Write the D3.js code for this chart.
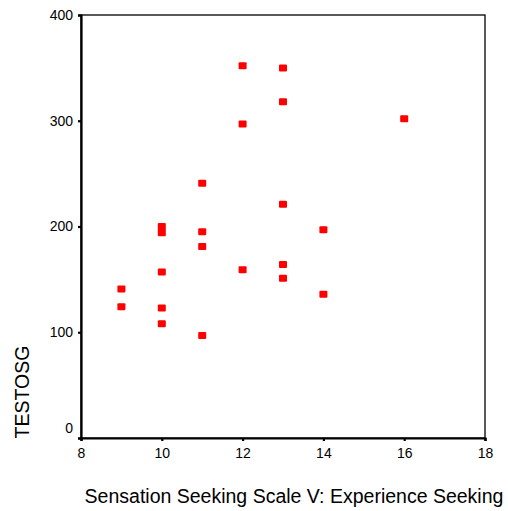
<!DOCTYPE html>
<html><head><meta charset="utf-8">
<script src="https://cdn.jsdelivr.net/npm/d3@7"></script>
<style>body{margin:0;background:#fff}</style>
</head><body>
<script>
const xValues = [12, 13, 13, 12, 16, 11, 13, 10, 10, 11, 14, 11, 10, 12, 13, 13, 9, 9, 14, 10, 10, 11];
const yValues = [352, 350, 318, 297, 302, 241, 221, 200, 194, 195, 197, 181, 157, 159, 164, 151, 141, 124, 136, 123, 108, 97];
const xTicks = [8, 10, 12, 14, 16, 18];
const yTicks = [0, 100, 200, 300, 400];
const xTitle = "Sensation Seeking Scale V: Experience Seeking";
const yTitle = "TESTOSG";

const W = 508, H = 511;
const m = {left: 81, right: 485, top: 15, bottom: 438};
const svg = d3.select("body").append("svg").attr("width", W).attr("height", H);
const x = d3.scaleLinear().domain([8, 18]).range([m.left, m.right]);
const y = d3.scaleLinear().domain([0, 400]).range([m.bottom, m.top]);
const font = "'Liberation Sans', Arial, sans-serif";

// frame
svg.append("rect").attr("x", m.left).attr("y", m.top)
  .attr("width", m.right - m.left).attr("height", m.bottom - m.top)
  .attr("fill", "none").attr("stroke", "#000").attr("stroke-width", 1.3);

// axes
const xAxis = svg.append("g").attr("transform", `translate(0,${m.bottom})`)
  .call(d3.axisBottom(x).tickValues(xTicks).tickSize(3).tickPadding(7).tickFormat(d3.format("d")));
const yAxis = svg.append("g").attr("transform", `translate(${m.left},0)`)
  .call(d3.axisLeft(y).tickValues(yTicks).tickSize(3).tickPadding(5).tickFormat(d3.format("d")));
[xAxis, yAxis].forEach(a => {
  a.select(".domain").attr("stroke", "#000").attr("stroke-width", 2.2);
  a.selectAll(".tick line").attr("stroke", "#000").attr("stroke-width", 2.2);
  a.selectAll("text").attr("fill", "#000").style("font-family", font).style("font-size", "14px");
});
yAxis.selectAll(".tick").filter(d => d === 0).select("text").attr("dy", "-0.38em");

// points
svg.append("g").selectAll("rect").data(xValues.map((v, i) => [v, yValues[i]]))
  .join("rect")
  .attr("x", d => x(d[0]) - 4).attr("y", d => y(d[1]) - 3.5)
  .attr("width", 8).attr("height", 7).attr("rx", 1)
  .attr("fill", "#ff0000");

// titles
svg.append("text").attr("x", 294).attr("y", 503).attr("text-anchor", "middle")
  .style("font-family", font).style("font-size", "19.5px").attr("fill", "#000").text(xTitle);
svg.append("text").attr("transform", "translate(29,392) rotate(-90)").attr("text-anchor", "middle")
  .style("font-family", font).style("font-size", "19.5px").attr("fill", "#000").text(yTitle);
</script>
</body></html>
